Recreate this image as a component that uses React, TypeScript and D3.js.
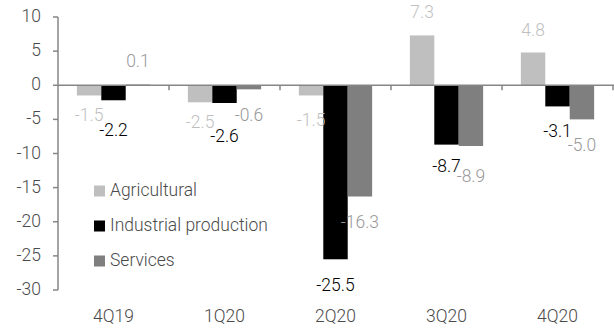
import React from "react";
import * as d3 from "d3";

const categories = ["4Q19", "1Q20", "2Q20", "3Q20", "4Q20"];
const seriesNames = ["Agricultural", "Industrial production", "Services"];
const agricultural = [-1.5, -2.5, -1.5, 7.3, 4.8];
const industrial = [-2.2, -2.6, -25.5, -8.7, -3.1];
const services = [0.1, -0.6, -16.3, -8.9, -5.0];
const yTicks = [10, 5, 0, -5, -10, -15, -20, -25, -30];

const barColors = ["#bfbfbf", "#000000", "#7f7f7f"];
const labelColors = ["#bfbfbf", "#000000", "#999999"];
// distance (px) of each data label's centre from its bar end, per series / category
const labelGap = [
  [20, 21, 25, 22, 22],
  [31, 34, 27, 22, 26],
  [23, 27, 26, 31, 27],
];

const W = 614;
const H = 329;
const FONT = "Roboto, 'Liberation Sans', sans-serif";
const FS = 19;
const SX = 0.92;

type TProps = {
  x: number;
  y: number;
  anchor?: "start" | "middle" | "end";
  fill: string;
  children: React.ReactNode;
};

function T({ x, y, anchor = "start", fill, children }: TProps) {
  return (
    <text
      transform={`translate(${x},${y}) scale(${SX},1)`}
      textAnchor={anchor}
      dominantBaseline="middle"
      fontSize={FS}
      fontWeight={300}
      fill={fill}
    >
      {children}
    </text>
  );
}

export default function App() {
  const seriesValues = [agricultural, industrial, services];
  const y = d3.scaleLinear().domain([-30, 10]).range([290, 17]);
  const x = d3
    .scaleBand<string>()
    .domain(categories)
    .range([58, 613])
    .paddingInner(0.34)
    .paddingOuter(0.17);
  const xs = d3
    .scaleBand<string>()
    .domain(seriesNames)
    .range([0, x.bandwidth()]);
  const step = x.step();
  const x0 = x.range()[0];
  const boundaries = categories.map((_, i) => x0 + (i + 1) * step);
  const legendY = d3.scalePoint<string>().domain(seriesNames).range([191, 261]);

  return (
    <svg
      width={W}
      height={H}
      style={{ position: "absolute", left: 0, top: 0, background: "#fff" }}
      fontFamily={FONT}
    >
      {/* bars */}
      {seriesValues.map((vals, si) =>
        vals.map((v, ci) => (
          <rect
            key={`b-${si}-${ci}`}
            x={(x(categories[ci]) ?? 0) + (xs(seriesNames[si]) ?? 0)}
            y={Math.min(y(v), y(0))}
            width={xs.bandwidth()}
            height={Math.abs(y(v) - y(0))}
            fill={barColors[si]}
          />
        ))
      )}
      {/* y axis */}
      <line x1={58} x2={58} y1={y(10)} y2={y(-30)} stroke="#868686" strokeWidth={1.5} />
      {yTicks.map((t) => (
        <g key={`yt-${t}`}>
          <line x1={53} x2={58} y1={y(t)} y2={y(t)} stroke="#868686" strokeWidth={1.5} />
          <T x={41} y={y(t)} anchor="end" fill="#4a4a4a">
            {t}
          </T>
        </g>
      ))}
      {/* x axis at zero */}
      <line x1={58} x2={614} y1={y(0)} y2={y(0)} stroke="#868686" strokeWidth={1.5} />
      {boundaries.map((b, i) => (
        <line key={`xt-${i}`} x1={b} x2={b} y1={y(0)} y2={y(0) + 5} stroke="#868686" strokeWidth={1.5} />
      ))}
      {categories.map((c) => (
        <T key={`xl-${c}`} x={(x(c) ?? 0) + x.bandwidth() / 2} y={317} anchor="middle" fill="#4a4a4a">
          {c}
        </T>
      ))}
      {/* data labels */}
      {seriesValues.map((vals, si) =>
        vals.map((v, ci) => (
          <T
            key={`l-${si}-${ci}`}
            x={(x(categories[ci]) ?? 0) + (xs(seriesNames[si]) ?? 0) + xs.bandwidth() / 2}
            y={y(v) + (v >= 0 ? -labelGap[si][ci] : labelGap[si][ci])}
            anchor="middle"
            fill={labelColors[si]}
          >
            {v.toFixed(1)}
          </T>
        ))
      )}
      {/* legend */}
      {seriesNames.map((s, si) => (
        <g key={`lg-${s}`}>
          <rect x={94} y={(legendY(s) ?? 0) - 5.5} width={11} height={11} fill={barColors[si]} />
          <T x={110} y={legendY(s) ?? 0} fill="#4a4a4a">
            {s}
          </T>
        </g>
      ))}
    </svg>
  );
}
